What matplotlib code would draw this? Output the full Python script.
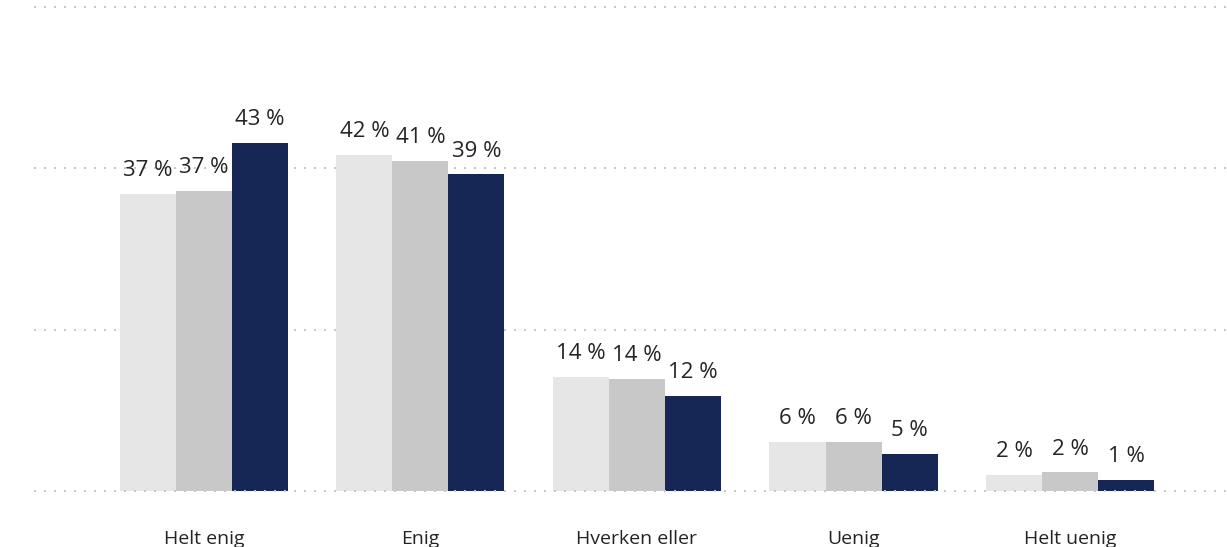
import numpy as np
import matplotlib.pyplot as plt

plt.rcParams['font.family'] = ['Open Sans', 'DejaVu Sans']

categories = ['Helt enig', 'Enig', 'Hverken eller', 'Uenig', 'Helt uenig']
series_a = [36.8, 41.6, 14.1, 6.1, 2.0]
series_b = [37.2, 40.9, 13.9, 6.1, 2.3]
series_c = [43.1, 39.2, 11.8, 4.6, 1.4]
colors = ['#e6e6e6', '#c8c8c8', '#162756']
grid_ticks = [0, 20, 40, 60]

fig = plt.figure(figsize=(12.27, 5.47), dpi=100)
W, H = 1227, 547
left, right = 34, 1227
bottom, top = 491, 2.5
ax = fig.add_axes([left / W, 1 - bottom / H, (right - left) / W, (bottom - top) / H])

x = np.arange(len(categories))
bw = 0.2587
text_col = '#252423'
for i, (vals, c) in enumerate(zip([series_a, series_b, series_c], colors)):
    xs = x + (i - 1) * bw
    ax.bar(xs, vals, width=bw, color=c, zorder=2)
    for xi, v in zip(xs, vals):
        ax.text(xi, v + 2.2, f"{round(v):d} %", ha='center', va='baseline',
                fontsize=16, color=text_col, zorder=3)

for g in grid_ticks:
    ax.axhline(g, color='#c8c8c8', lw=1.44, linestyle=(0, (1, 4)),
               zorder=3 if g == 0 else 1, clip_on=False)

ax.set_xlim(-0.785, 4.725)
ax.set_ylim(0, 60.5)
ax.set_xticks(x)
ax.set_xticklabels(categories, fontsize=14, color=text_col, va='baseline')
ax.tick_params(axis='x', length=0, pad=38)
ax.set_yticks([])
for s in ax.spines.values():
    s.set_visible(False)

fig.savefig('out.png', dpi=100)
